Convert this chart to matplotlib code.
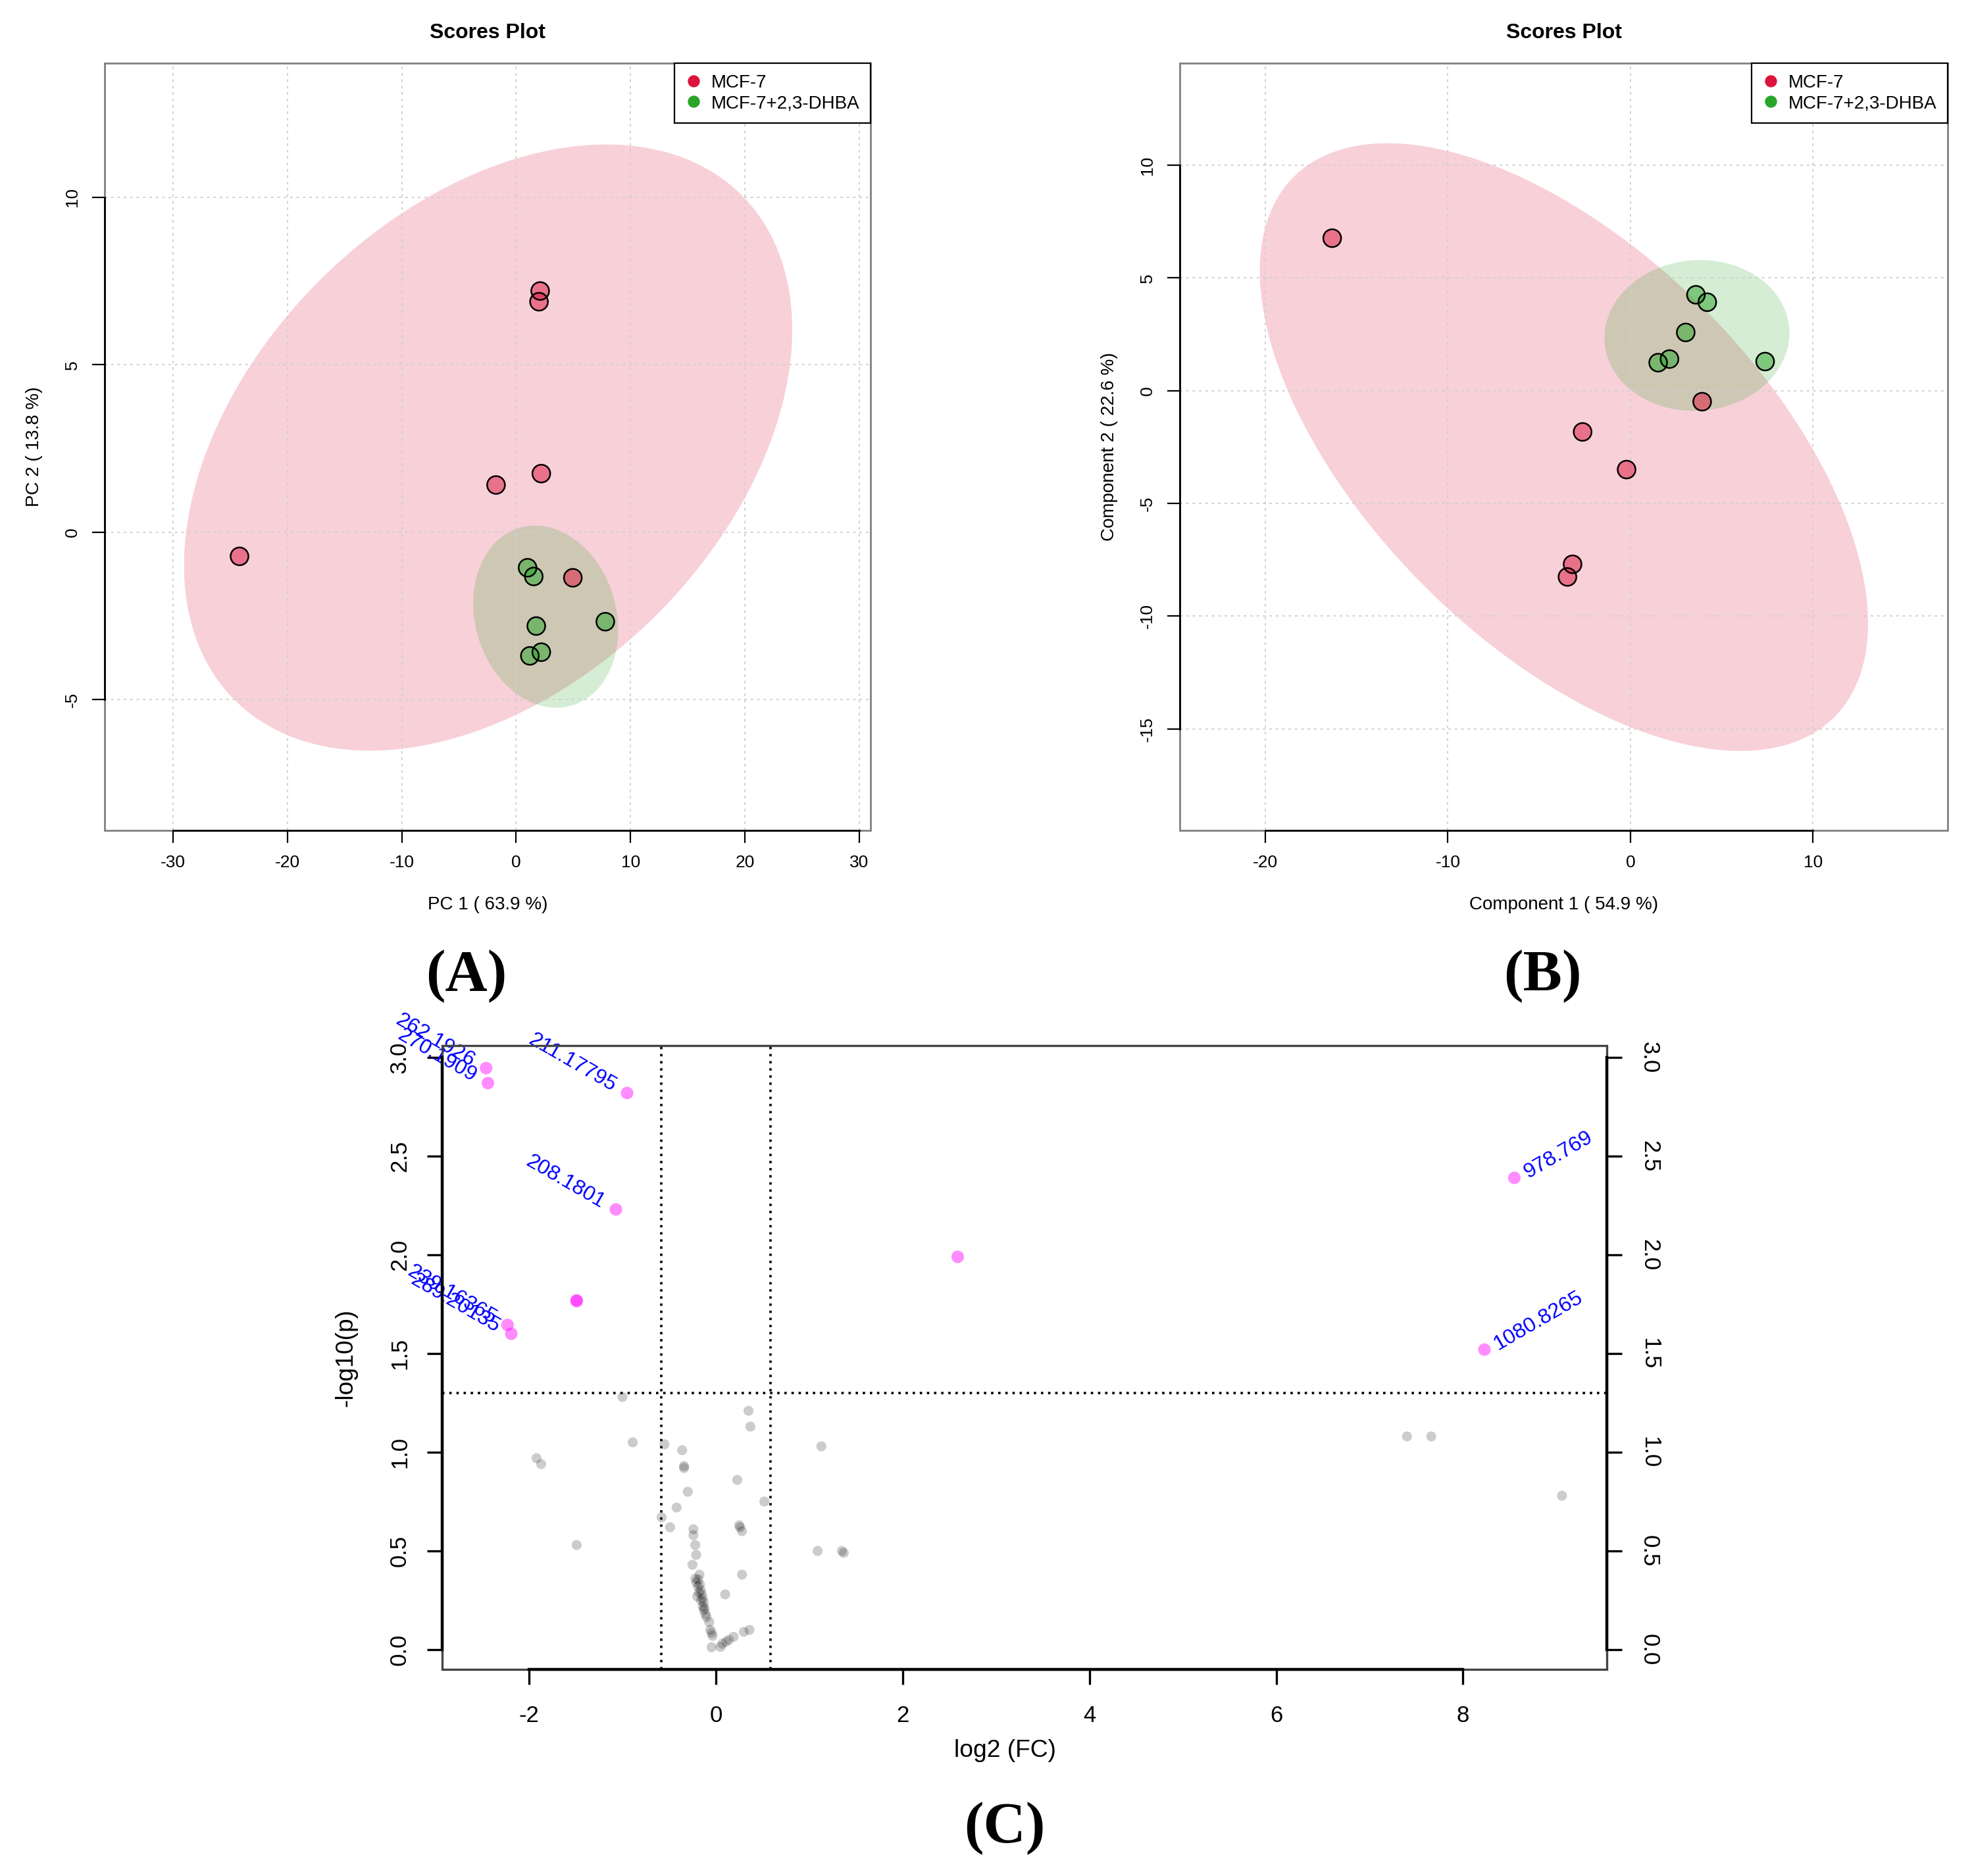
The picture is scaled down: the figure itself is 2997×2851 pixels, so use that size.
import numpy as np
import matplotlib
matplotlib.use('Agg')
import matplotlib.pyplot as plt
from matplotlib.patches import Polygon, Rectangle
from matplotlib.lines import Line2D

plt.rcParams['font.family'] = ['Liberation Sans', 'DejaVu Sans']
plt.rcParams['axes.unicode_minus'] = False

W, H = 2997, 2851
DPI = 200

groups = ['MCF-7', 'MCF-7+2,3-DHBA']
group_colors = ['#DC143C', '#28A528']

# panel A - PCA scores
pca_x_ctrl = [-24.2, 2.1, 2.0, 2.2, -1.76, 4.96]
pca_y_ctrl = [-0.72, 7.2, 6.88, 1.75, 1.41, -1.36]
pca_x_dhba = [1.0, 1.54, 1.76, 2.2, 1.2, 7.8]
pca_y_dhba = [-1.06, -1.32, -2.8, -3.58, -3.69, -2.67]

# panel B - PLS-DA scores
pls_x_ctrl = [-16.34, 3.93, -2.62, -0.21, -3.17, -3.45]
pls_y_ctrl = [6.76, -0.49, -1.83, -3.5, -7.7, -8.26]
pls_x_dhba = [3.59, 4.21, 3.03, 1.52, 2.14, 7.38]
pls_y_dhba = [4.25, 3.92, 2.58, 1.24, 1.4, 1.29]

# panel C - volcano plot
sig_fc = [-2.46, -2.44, -0.95, -1.07, -1.49, -1.49, -2.23, -2.19, 2.59, 8.55, 8.23]
sig_p = [2.946, 2.87, 2.82, 2.23, 1.77, 1.765, 1.645, 1.60, 1.99, 2.39, 1.52]
sig_names = ['262.1926', '270.1909', '211.17795', '208.1801', '', '',
             '239.16365', '289.20135', '', '978.769', '1080.8265']

ns_fc = [-1.92, -1.87, -1.49, -1.00, -0.89, -0.55, -0.36, -0.34, -0.34, -0.30,
         -0.42, -0.58, -0.49, -0.24, -0.24, -0.22, -0.21, -0.25,
         -0.175, -0.22, -0.19, -0.21, -0.17, -0.19, -0.16, -0.18, -0.15, -0.20,
         -0.14, -0.16, -0.13, -0.14, -0.12, -0.13, -0.11, -0.10,
         -0.07, -0.06, -0.045, -0.035, -0.045, 0.05, 0.07, 0.11, 0.14, 0.19,
         0.30, 0.36, 0.10, 0.28, 0.25, 0.26, 0.28, 0.23, 0.35, 0.37, 0.52,
         1.13, 1.09, 1.35, 1.37, 7.40, 7.66, 9.06]
ns_p = [0.97, 0.94, 0.53, 1.28, 1.05, 1.04, 1.01, 0.93, 0.92, 0.80,
        0.72, 0.67, 0.62, 0.61, 0.58, 0.53, 0.48, 0.43,
        0.38, 0.36, 0.355, 0.34, 0.33, 0.32, 0.30, 0.29, 0.28, 0.27,
        0.26, 0.25, 0.24, 0.22, 0.21, 0.20, 0.18, 0.165,
        0.14, 0.10, 0.085, 0.07, 0.012, 0.014, 0.03, 0.04, 0.05, 0.065,
        0.09, 0.10, 0.28, 0.38, 0.63, 0.62, 0.60, 0.86, 1.21, 1.13, 0.75,
        1.03, 0.50, 0.50, 0.49, 1.08, 1.08, 0.78]

fc_cut = np.log2(1.5)
p_cut = -np.log10(0.05)


def fpos(x, y):
    return x / W, 1 - y / H


def ax_rect(x0, y0, x1, y1):
    return [x0 / W, 1 - y1 / H, (x1 - x0) / W, (y1 - y0) / H]


def conf_ellipse(xs, ys, t=np.sqrt(-2 * np.log(0.05)), n=300):
    pts = np.column_stack([xs, ys])
    c = pts.mean(axis=0)
    L = np.linalg.cholesky(np.cov(pts, rowvar=False))
    th = np.linspace(0, 2 * np.pi, n)
    circ = np.vstack([np.cos(th), np.sin(th)])
    return (c[:, None] + t * L @ circ).T


def r_frame(ax, xt, yt, box_col, lw_box, lw_axis, right=False):
    for s in ax.spines.values():
        s.set_visible(False)
    ax.add_patch(Rectangle((0, 0), 1, 1, transform=ax.transAxes, fill=False,
                           edgecolor=box_col, lw=lw_box, clip_on=False, zorder=4))
    ax.spines['bottom'].set_visible(True)
    ax.spines['left'].set_visible(True)
    ax.spines['bottom'].set_bounds(xt[0], xt[-1])
    ax.spines['left'].set_bounds(yt[0], yt[-1])
    sides = ['bottom', 'left']
    if right:
        ax.spines['right'].set_visible(True)
        ax.spines['right'].set_bounds(yt[0], yt[-1])
        sides.append('right')
    for s in sides:
        ax.spines[s].set_color('black')
        ax.spines[s].set_linewidth(lw_axis)
        ax.spines[s].set_zorder(5)


def scores_panel(rect, xc, yc, xd, yd, xlim, ylim, xt, yt, xlab, ylab, lab_x):
    ax = fig.add_axes(rect)
    ell_c = conf_ellipse(xc, yc)
    ell_d = conf_ellipse(xd, yd)
    ax.add_patch(Polygon(ell_c, closed=True, facecolor=group_colors[0], alpha=0.2, lw=0))
    ax.add_patch(Polygon(ell_d, closed=True, facecolor=group_colors[1], alpha=0.2, lw=0))
    ax.scatter(xc, yc, s=95, facecolor=group_colors[0], alpha=0.5, edgecolor='none', zorder=3)
    ax.scatter(xc, yc, s=95, facecolor='none', edgecolor='black', lw=0.9, zorder=3)
    ax.scatter(xd, yd, s=95, facecolor=group_colors[1], alpha=0.5, edgecolor='none', zorder=3)
    ax.scatter(xd, yd, s=95, facecolor='none', edgecolor='black', lw=0.9, zorder=3)
    ax.set_xlim(xlim)
    ax.set_ylim(ylim)
    ax.set_xticks(xt)
    ax.set_yticks(yt)
    ax.grid(True, color='#D0D0D0', ls=(0, (2, 3)), lw=0.7)
    ax.tick_params(direction='out', length=6.8, width=0.8, pad=6.5, labelsize=9.5)
    for lb in ax.get_yticklabels():
        lb.set_rotation(90)
        lb.set_va('center')
    r_frame(ax, xt, yt, '#808080', 1.0, 1.0)
    handles = [Line2D([], [], marker='o', ls='', color=c, markersize=5.6) for c in group_colors]
    leg = ax.legend(handles, groups, loc='upper right', borderaxespad=0, fancybox=False,
                    edgecolor='black', framealpha=1, fontsize=10, handlelength=0.9,
                    handletextpad=0.5, borderpad=0.6, labelspacing=0.2)
    leg.get_frame().set_linewidth(0.8)
    leg.set_zorder(6)
    cx = (rect[0] + rect[2] / 2)
    fig.text(cx, fpos(0, 50)[1], 'Scores Plot', ha='center', va='center',
             fontsize=11.5, fontweight='bold')
    fig.text(cx, fpos(0, 1375)[1], xlab, ha='center', va='center', fontsize=10)
    fig.text(lab_x / W, rect[1] + rect[3] / 2, ylab, ha='center', va='center',
             rotation=90, fontsize=10)
    return ax


fig = plt.figure(figsize=(W / DPI, H / DPI), dpi=DPI)

scores_panel(ax_rect(159, 96, 1323, 1262), pca_x_ctrl, pca_y_ctrl, pca_x_dhba, pca_y_dhba,
             (-36, 31), (-8.9, 14.0), [-30, -20, -10, 0, 10, 20, 30], [-5, 0, 5, 10],
             'PC 1 ( 63.9 %)', 'PC 2 ( 13.8 %)', 52)
scores_panel(ax_rect(1793, 96, 2960, 1262), pls_x_ctrl, pls_y_ctrl, pls_x_dhba, pls_y_dhba,
             (-24.69, 17.38), (-19.5, 14.52), [-20, -10, 0, 10], [-15, -10, -5, 0, 5, 10],
             'Component 1 ( 54.9 %)', 'Component 2 ( 22.6 %)', 1686)

# volcano
axc = fig.add_axes(ax_rect(672, 1589, 2442, 2537))
axc.scatter(ns_fc, ns_p, s=30, color='black', alpha=0.2, edgecolor='none', zorder=3)
axc.scatter(sig_fc, sig_p, s=47, color='#FF00FF', alpha=0.45, edgecolor='none', zorder=3)
axc.axvline(-fc_cut, color='black', ls=(0, (1, 2)), lw=1.3, zorder=2)
axc.axvline(fc_cut, color='black', ls=(0, (1, 2)), lw=1.3, zorder=2)
axc.axhline(p_cut, color='black', ls=(0, (1, 2)), lw=1.3, zorder=2)
for fc, p, name in zip(sig_fc, sig_p, sig_names):
    if not name:
        continue
    if fc < 0:
        axc.annotate(name, (fc, p), xytext=(-7, 3), textcoords='offset points',
                     rotation=-30, rotation_mode='anchor', ha='right', va='center',
                     color='blue', fontsize=11.5)
    else:
        axc.annotate(name, (fc, p), xytext=(6, 2), textcoords='offset points',
                     rotation=30, rotation_mode='anchor', ha='left', va='center',
                     color='blue', fontsize=11.5)
xt_c = [-2, 0, 2, 4, 6, 8]
yt_c = [0.0, 0.5, 1.0, 1.5, 2.0, 2.5, 3.0]
axc.set_xlim(-2.93, 9.54)
axc.set_ylim(-0.10, 3.06)
axc.set_xticks(xt_c)
axc.set_yticks(yt_c)
axc.set_yticklabels(['%.1f' % v for v in yt_c])
axc.tick_params(direction='out', length=8.3, width=1.2, labelsize=12.5)
axc.tick_params(axis='x', pad=11)
axc.tick_params(axis='y', right=True, labelright=True, pad=9)
for tk in axc.yaxis.get_major_ticks():
    tk.label1.set_rotation(90)
    tk.label1.set_va('center')
    tk.label2.set_rotation(270)
    tk.label2.set_va('center')
r_frame(axc, xt_c, yt_c, '#444444', 1.2, 1.6, right=True)
fig.text(1527 / W, fpos(0, 2661)[1], 'log2 (FC)', ha='center', va='center', fontsize=13.4)
fig.text(526 / W, fpos(0, 2063)[1], '-log10(p)', ha='center', va='center',
         rotation=90, fontsize=13.4)

# panel letters
for lab, (x, y) in zip(['(A)', '(B)', '(C)'], [(709, 1484), (2344, 1484), (1527, 2779)]):
    fig.text(x / W, fpos(0, y)[1], lab, ha='center', va='center', fontsize=32,
             fontweight='bold', family=['Liberation Serif', 'DejaVu Serif'])

fig.savefig('out.png', dpi=DPI)
